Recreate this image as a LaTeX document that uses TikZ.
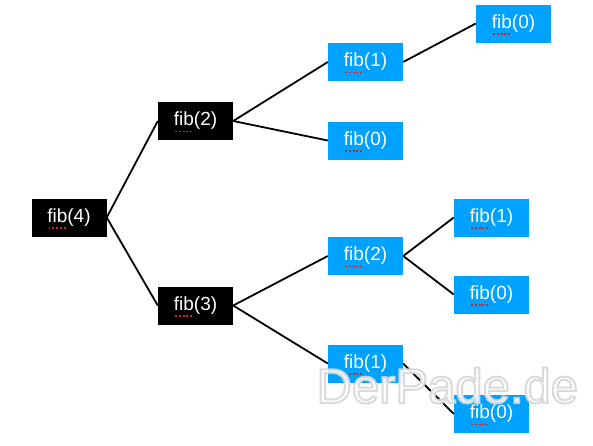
\documentclass[tikz,border=0pt]{standalone}
\usepackage{fontspec}
\setmainfont{Liberation Sans}
\definecolor{boxblue}{RGB}{0,162,255}
\definecolor{spellred}{RGB}{200,40,40}
\newcommand\spellmark[1]{\draw[spellred, line width=1.9pt, dash pattern=on 1.9pt off 1.9pt] ([xshift=-20.5pt,yshift=-10.5pt]#1.center) -- ++(19pt,0);}
\begin{document}
\begin{tikzpicture}[x=1pt,y=-1pt,
  box/.style={minimum width=75pt, minimum height=38pt, inner sep=0pt, text=white, font=\fontsize{19}{19}\selectfont},
  blackbox/.style={box, fill=black},
  bluebox/.style={box, fill=boxblue},
  link/.style={line width=1.8pt, black},
  wmark/.style={font=\fontsize{49}{49}\selectfont, anchor=base west}]
\useasboundingbox (0,0) rectangle (593,445);
\fill[white] (0,0) rectangle (593,445);
\node[blackbox] (f4) at (69,217.5) {fib(4)};
\node[blackbox] (f2) at (195.5,121) {fib(2)};
\node[blackbox] (f3) at (195.5,305.5) {fib(3)};
\node[bluebox] (a1) at (365.5,62) {fib(1)};
\node[bluebox] (a0) at (365.5,140.5) {fib(0)};
\node[bluebox] (b0) at (513.5,23.5) {fib(0)};
\node[bluebox] (c2) at (365.5,256) {fib(2)};
\node[bluebox] (d1) at (491.5,217.5) {fib(1)};
\node[bluebox] (d0) at (491.5,294.5) {fib(0)};
\node[bluebox] (e1) at (365.5,363.5) {fib(1)};
\node[bluebox] (e0) at (491.5,414) {fib(0)};
\draw[link] (f4.east) -- (f2.west);
\draw[link] (f4.east) -- (f3.west);
\draw[link] (f2.east) -- (a1.west);
\draw[link] (f2.east) -- (a0.west);
\draw[link] (a1.east) -- (b0.west);
\draw[link] (f3.east) -- (c2.west);
\draw[link] (f3.east) -- (e1.west);
\draw[link] (c2.east) -- (d1.west);
\draw[link] (c2.east) -- (d0.west);
\draw[link] (e1.east) -- (e0.west);
\foreach \n in {f4,f2,f3,a1,a0,b0,c2,d1,d0,e1,e0}{\spellmark{\n}}
% watermark: white text with a light grey outline
\node[wmark, text=white, opacity=0.9] (wm) at (313,403)
  {\special{pdf:literal 2 Tr 0.84 G 2 w}DerPade.de\special{pdf:literal 0 Tr}};
\end{tikzpicture}
\end{document}
